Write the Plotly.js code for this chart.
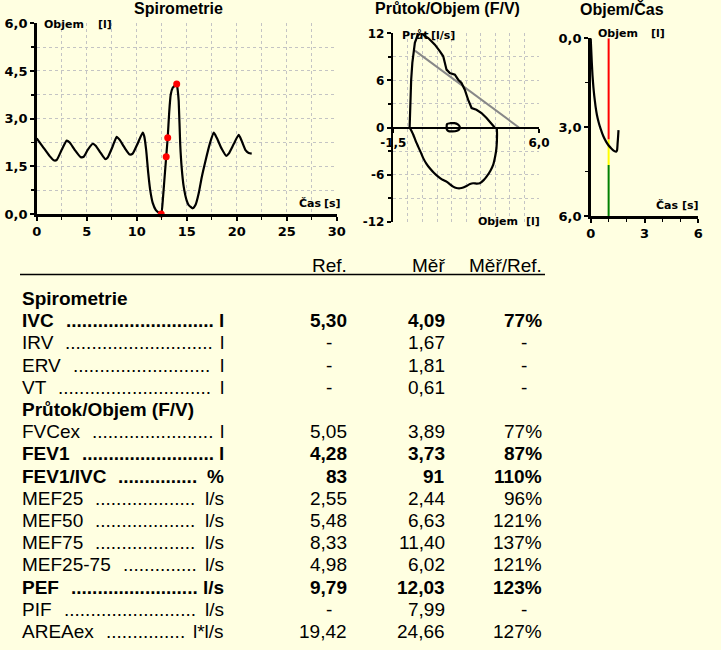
<!DOCTYPE html>
<html><head><meta charset="utf-8">
<script src="https://cdn.plot.ly/plotly-3.0.1.min.js"></script>
<style>html,body{margin:0;padding:0;background:#FFFFE1;} #chart{width:721px;height:650px;}</style>
</head><body><div id="chart"></div>
<script>
// ---------- Spirometrie (volume vs time) ----------
const spiroTime   = [0.0,0.6,1.3,1.7,2.0,2.5,3.0,3.3,3.8,4.4,4.7,5.1,5.6,5.9,6.4,6.85,7.1,7.6,8.0,8.3,8.9,9.3,9.6,10.1,10.6,10.75,10.95,11.15,11.35,11.6,11.9,12.2,12.45,12.6,12.75,12.95,13.1,13.25,13.4,13.6,13.85,14.0,14.1,14.2,14.35,14.5,14.7,15.0,15.2,15.6,15.9,16.2,16.5,16.9,17.3,17.7,18.0,18.5,18.95,19.2,19.7,20.2,20.5,20.9,21.2,21.5];
const spiroVolume = [2.38,2.12,1.82,1.69,1.70,2.02,2.31,2.25,2.02,1.79,1.80,2.02,2.21,2.15,1.92,1.73,1.78,2.13,2.43,2.33,2.03,1.87,1.90,2.22,2.56,2.45,2.0,1.3,0.75,0.35,0.13,0.04,0.0,0.4,1.0,1.8,2.4,3.2,3.75,3.97,4.05,4.09,3.9,3.55,2.2,1.45,0.86,0.42,0.28,0.18,0.3,0.65,1.15,1.7,2.2,2.56,2.4,2.05,1.83,1.9,2.2,2.49,2.3,2.0,1.92,1.9];
const spiroMarkTime   = [12.45, 12.95, 13.1, 14.0];
const spiroMarkVolume = [0.0, 1.8, 2.4, 4.09];

// ---------- Průtok/Objem (flow vs volume) ----------
const fvExpVolume = [-0.66,-0.64,-0.61,-0.58,-0.52,-0.47,-0.39,-0.27,-0.13,-0.04,0.1,0.3,0.385,0.64,0.90,1.07,1.24,1.41,1.67,1.84,2.01,2.18,2.35,2.53,2.78,3.04,3.30,3.55,3.72];
const fvExpFlow   = [0.0,1.84,3.96,6.09,8.22,9.5,10.78,11.6,12.0,12.03,11.7,11.4,11.2,10.56,9.71,9.07,7.37,6.95,6.73,6.09,5.67,4.81,3.54,2.48,2.26,1.84,1.2,0.56,0.0];
const fvInspVolume = [-0.66,-0.55,-0.47,-0.35,-0.22,-0.08,0.04,0.2,0.38,0.6,0.81,1.0,1.24,1.4,1.58,1.75,1.93,2.1,2.27,2.45,2.61,2.8,2.95,3.15,3.30,3.5,3.64,3.75,3.81,3.84,3.83];
const fvInspFlow   = [0.0,-0.5,-0.93,-1.7,-2.43,-3.2,-3.9,-4.6,-5.2,-5.8,-6.26,-6.6,-6.9,-7.2,-7.53,-7.7,-7.74,-7.65,-7.45,-7.2,-7.1,-7.15,-7.1,-6.7,-6.26,-5.5,-4.77,-3.6,-2.63,-0.93,0.05];
const fvTidalVolume = [1.27,1.45,1.65,1.82,1.92,1.90,1.78,1.55,1.33,1.25,1.25,1.27];
const fvTidalFlow   = [0.45,0.55,0.55,0.40,0.10,-0.20,-0.42,-0.50,-0.45,-0.20,0.20,0.45];
const fvRefVolume = [-0.39, 4.97];
const fvRefFlow   = [9.79, 0.0];
const fvFlowTickVals = [-12, -6, 0, 6, 12];
const fvFlowTickText = ['-12', '-6', '0', '6', '12'];
const fvVolTickVals = [-1.5, 6.0];
const fvVolTickText = ['-1,5', '6,0'];

// ---------- Objem/Čas (volume vs time, first seconds) ----------
const vtTime   = [0,0.03,0.06,0.1,0.15,0.2,0.27,0.35,0.45,0.55,0.7,0.85,1.0,1.15,1.3,1.42,1.47,1.5,1.53,1.55];
const vtVolume = [0,0.4,0.8,1.25,1.65,1.95,2.3,2.6,2.85,3.05,3.3,3.48,3.62,3.72,3.8,3.83,3.78,3.55,3.3,3.1];
const fev1Time = 1.0;
const fev1ZoneBounds = [0.0, 3.42, 4.28, 6.0];
const fev1ZoneColors = ['#FF0000', '#FFFF00', '#008000'];

// ---------- Table ----------
const headerLabels = ['Ref.', 'Měř', 'Měř/Ref.'];
const rowLabels  = ['Spirometrie','IVC','IRV','ERV','VT','Průtok/Objem (F/V)','FVCex','FEV1','FEV1/IVC','MEF25','MEF50','MEF75','MEF25-75','PEF','PIF','AREAex'];
const rowSection = [true,false,false,false,false,true,false,false,false,false,false,false,false,false,false,false];
const rowBold    = [true,true,false,false,false,true,false,true,true,false,false,false,false,true,false,false];
const rowUnits   = ['','l','l','l','l','','l','l','%','l/s','l/s','l/s','l/s','l/s','l/s','l*l/s'];
const rowRef     = [null,5.30,null,null,null,null,5.05,4.28,83,2.55,5.48,8.33,4.98,9.79,null,19.42];
const rowMer     = [null,4.09,1.67,1.81,0.61,null,3.89,3.73,91,2.44,6.63,11.40,6.02,12.03,7.99,24.66];
const rowRatio   = [null,77,null,null,null,null,77,87,110,96,121,137,121,123,null,127];
const rowDecimals= [2,2,2,2,2,2,2,2,0,2,2,2,2,2,2,2];

// ---------- helpers ----------
const W = 721, H = 650;
const px = v => v / W;
const py = v => 1 - v / H;
const BG = '#FFFFE1';
const GRID = '#C4C4C4';
const TABLE_FONT = 'Liberation Sans, Arial, sans-serif';
const TSIZE = 19;
const tickFont = (s) => ({family: 'DejaVu Sans, sans-serif', size: s, color: '#000', weight: 'bold'});
const axFont = {family: 'DejaVu Sans, sans-serif', size: 11, color: '#000', weight: 'bold'};
const titleFont = {family: 'Liberation Sans, Arial, sans-serif', size: 16, color: '#000', weight: 'bold'};

const canvas = document.createElement('canvas');
const ctx = canvas.getContext('2d');
function textW(t, bold) { ctx.font = (bold ? 'bold ' : '') + TSIZE + 'px "Liberation Sans", Arial, sans-serif'; return ctx.measureText(t).width; }
function fmt(v, d) { return v.toFixed(d).replace('.', ','); }

const traces = [];
traces.push({type:'scatter', mode:'lines', x:spiroTime, y:spiroVolume, xaxis:'x', yaxis:'y', line:{color:'#000', width:2.2, shape:'spline', smoothing:0.5}, hoverinfo:'skip'});
traces.push({type:'scatter', mode:'markers', x:spiroMarkTime, y:spiroMarkVolume, xaxis:'x', yaxis:'y', marker:{color:'#FF0000', size:7}, cliponaxis:false, hoverinfo:'skip'});

traces.push({type:'scatter', mode:'lines', x:fvRefVolume, y:fvRefFlow, xaxis:'x2', yaxis:'y2', line:{color:'#888888', width:2}, hoverinfo:'skip'});
traces.push({type:'scatter', mode:'lines', x:fvExpVolume, y:fvExpFlow, xaxis:'x2', yaxis:'y2', line:{color:'#000', width:2.2}, hoverinfo:'skip'});
traces.push({type:'scatter', mode:'lines', x:fvInspVolume, y:fvInspFlow, xaxis:'x2', yaxis:'y2', line:{color:'#000', width:2.2, shape:'spline', smoothing:0.4}, hoverinfo:'skip'});
traces.push({type:'scatter', mode:'lines', x:fvTidalVolume, y:fvTidalFlow, xaxis:'x2', yaxis:'y2', line:{color:'#000', width:2.2, shape:'spline'}, hoverinfo:'skip'});

for (let i = 0; i < fev1ZoneColors.length; i++) {
  traces.push({type:'scatter', mode:'lines', x:[fev1Time, fev1Time], y:[fev1ZoneBounds[i], fev1ZoneBounds[i+1]], xaxis:'x3', yaxis:'y3', line:{color:fev1ZoneColors[i], width:2}, hoverinfo:'skip'});
}
traces.push({type:'scatter', mode:'lines', x:vtTime, y:vtVolume, xaxis:'x3', yaxis:'y3', line:{color:'#000', width:2.2, shape:'spline', smoothing:0.5}, hoverinfo:'skip'});

const axCommon = {showline:true, linecolor:'#000', linewidth:2.5, ticks:'outside', ticklen:4, tickwidth:2, tickcolor:'#000', zeroline:false, fixedrange:true};
const gridStyle = {showgrid:true, gridcolor:GRID, griddash:'dot', gridwidth:1};

const layout = {
  width: W, height: H, margin:{l:0,r:0,t:0,b:0}, paper_bgcolor:BG, plot_bgcolor:BG,
  showlegend:false, separators:',.', hovermode:false,
  xaxis: Object.assign({}, axCommon, gridStyle, {domain:[px(36.7), px(336.7)], range:[0,30], anchor:'y', tick0:0, dtick:5, tickfont:tickFont(13),
    minor:Object.assign({tick0:0, dtick:2.5, ticks:'outside', ticklen:3, tickwidth:1.5, tickcolor:'#000'}, gridStyle)}),
  yaxis: Object.assign({}, axCommon, gridStyle, {domain:[py(214), py(23.3)], range:[0,6], anchor:'x', tick0:0, dtick:1.5, tickformat:'.1f', tickfont:tickFont(13),
    minor:Object.assign({tick0:0, dtick:0.75, ticks:'outside', ticklen:3, tickwidth:1.5, tickcolor:'#000'}, gridStyle)}),
  xaxis2: Object.assign({}, axCommon, {domain:[px(393.3), px(539)], range:[-1.5,6], anchor:'free', position:py(127.5), tickmode:'array', tickvals:fvVolTickVals, ticktext:fvVolTickText, tickfont:tickFont(12), showgrid:false,
    minor:Object.assign({tickmode:'linear', tick0:-1.5, dtick:0.75, ticks:''}, gridStyle)}),
  yaxis2: Object.assign({}, axCommon, gridStyle, {domain:[py(221.7), py(33.3)], range:[-12,12], anchor:'x2', tickmode:'array', tickvals:fvFlowTickVals, ticktext:fvFlowTickText, tickfont:tickFont(12),
    minor:Object.assign({tickmode:'linear', tick0:-12, dtick:3, ticks:'outside', ticklen:3, tickwidth:1.5, tickcolor:'#000'}, gridStyle)}),
  xaxis3: Object.assign({}, axCommon, {domain:[px(590.7), px(698.3)], range:[0,6], anchor:'y3', tick0:0, dtick:3, tickfont:tickFont(13), showgrid:false,
    minor:{tick0:0, dtick:1, ticks:'outside', ticklen:3, tickwidth:1.5, tickcolor:'#000', showgrid:false}}),
  yaxis3: Object.assign({}, axCommon, {domain:[py(216), py(38.3)], range:[6,0], anchor:'x3', tick0:0, dtick:3, tickformat:'.1f', tickfont:tickFont(13), showgrid:false,
    minor:{tick0:0, dtick:1.5, ticks:'outside', ticklen:3, tickwidth:1.5, tickcolor:'#000', showgrid:false}}),
  annotations: [],
  shapes: [{type:'line', xref:'paper', yref:'paper', x0:px(20), x1:px(545), y0:py(274.5), y1:py(274.5), line:{color:'#000', width:1.5}}]
};

const A = layout.annotations;
function ann(text, x, y, xanchor, font) {
  A.push({text:text, xref:'paper', yref:'paper', x:px(x), y:py(y), xanchor:xanchor, yanchor:'middle', showarrow:false, font:font, borderpad:0});
}
// chart titles
ann('Spirometrie', 178, 9, 'center', titleFont);
ann('Průtok/Objem (F/V)', 447.5, 9, 'center', titleFont);
ann('Objem/Čas', 621.7, 9, 'center', titleFont);
// axis titles
ann('Objem', 43, 24.5, 'left', axFont); ann('[l]', 97, 24.5, 'left', axFont);
ann('Čas', 298, 203, 'left', axFont); ann('[s]', 342, 203, 'right', axFont);
ann('Průt', 400.7, 35, 'left', axFont); ann('[l/s]', 430, 35, 'left', axFont);
ann('Objem', 476.7, 221, 'left', axFont); ann('[l]', 540.5, 221, 'right', axFont);
ann('Objem', 596.7, 33, 'left', axFont); ann('[l]', 650, 33, 'left', axFont);
ann('Čas', 655, 206, 'left', axFont); ann('[s]', 699.5, 206, 'right', axFont);

// table
const colRight = [348.3, 445.7, 543.3];
const headerY = 265.5;
headerLabels.forEach((h, i) => ann(h, colRight[i], headerY, 'right', {family:TABLE_FONT, size:TSIZE, color:'#000'}));
const rowY0 = 298.5, rowStep = 22.2;
const nameX = 21, unitRight = 225;
rowLabels.forEach((name, i) => {
  const y = rowY0 + i * rowStep;
  const b = rowBold[i];
  const f = {family:TABLE_FONT, size:TSIZE, color:'#000', weight: b ? 'bold' : 'normal'};
  ann(name, nameX, y, 'left', f);
  if (rowSection[i]) return;
  const unit = rowUnits[i];
  ann(unit, unitRight, y, 'right', f);
  const dotStart = nameX + textW(name, b) + 12;
  const dotEnd = unitRight - textW(unit, b) - 7;
  const n = Math.max(0, Math.floor((dotEnd - dotStart) / textW('.', b)));
  ann('.'.repeat(n), dotStart, y, 'left', f);
  const vals = [
    rowRef[i] === null ? null : fmt(rowRef[i], rowDecimals[i]),
    rowMer[i] === null ? null : fmt(rowMer[i], rowDecimals[i]),
    rowRatio[i] === null ? null : rowRatio[i] + '%'
  ];
  vals.forEach((v, c) => {
    if (v === null) ann('-', colRight[c] - 19, y, 'center', f);
    else ann(v, colRight[c], y, 'right', f);
  });
});

Plotly.newPlot('chart', traces, layout, {displayModeBar:false, staticPlot:true});
</script>
</body></html>
